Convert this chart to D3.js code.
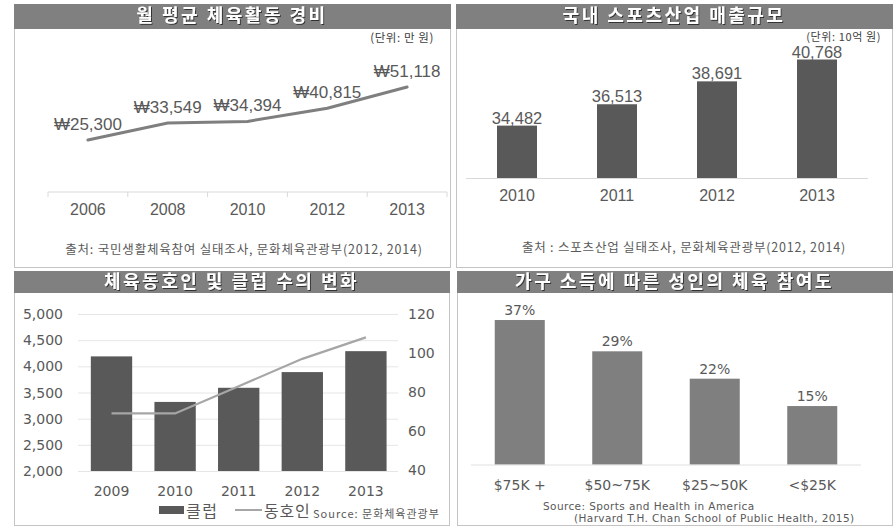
<!DOCTYPE html>
<html>
	<head>
		<meta charset="utf-8">
		<title>Sports charts</title>
		<style>
			body, html { margin: 0; padding: 0; background: #fff; }
			svg { display: block; }
			.kr { font-family: "Noto Sans CJK KR", "Noto Sans", sans-serif; }
			.ar { font-family: "Liberation Sans", Arial, sans-serif; }
			.dv { font-family: "DejaVu Sans", Verdana, sans-serif; }
		</style>
	</head>
	<body>

		<svg id="svg" width="896" height="528"></svg>

		<script src="https://d3js.org/d3.v7.min.js"></script>
		<script>
			// ---- data ----
			const spendYears = ['2006', '2008', '2010', '2012', '2013']
			const spendValues = [25300, 33549, 34394, 40815, 51118]

			const salesYears = ['2010', '2011', '2012', '2013']
			const salesValues = [34482, 36513, 38691, 40768]

			const clubYears = ['2009', '2010', '2011', '2012', '2013']
			const clubCounts = [4190, 3320, 3590, 3890, 4290]
			const memberCounts = [69, 69, 83, 97, 108]
			const clubTicks = [2000, 2500, 3000, 3500, 4000, 4500, 5000]
			const memberTicks = [40, 60, 80, 100, 120]

			const incomeGroups = ['$75K +', '$50~75K', '$25~50K', '<$25K']
			const incomeRates = [37, 29, 22, 15]

			const svg = d3.select('#svg')
			const titleGray = '#808080'
			const borderGray = '#c4c4c4'
			const textGray = '#595959'

			// shadow for the white titles
			svg.append('defs').append('filter')
				.attr('id', 'shadow')
				.append('feDropShadow')
				.attr('dx', 1).attr('dy', 1)
				.attr('stdDeviation', 0.6)
				.attr('flood-color', '#222')
				.attr('flood-opacity', 0.8)

			// draw a panel with a gray title bar
			function panel(x0, y0, w, h, barH, title) {
				svg.append('rect')
					.attr('x', x0 + 0.5).attr('y', y0 + 0.5)
					.attr('width', w).attr('height', h)
					.attr('fill', '#fff')
					.attr('stroke', borderGray)
				svg.append('rect')
					.attr('x', x0).attr('y', y0)
					.attr('width', w + 1).attr('height', barH)
					.attr('fill', titleGray)
				svg.append('text')
					.attr('class', 'kr')
					.attr('x', x0 + w / 2).attr('y', y0 + barH / 2 + 1)
					.attr('text-anchor', 'middle')
					.attr('dominant-baseline', 'middle')
					.attr('font-size', 18).attr('font-weight', 'bold')
					.attr('letter-spacing', 2.5)
					.attr('fill', '#fff')
					.attr('filter', 'url(#shadow)')
					.text(title)
			}

			panel(14, 4, 436, 263, 25, '월 평균 체육활동 경비')
			panel(456, 4, 436, 263, 25, '국내 스포츠산업 매출규모')
			panel(14, 271, 435, 254, 22, '체육동호인 및 클럽 수의 변화')
			panel(457, 271, 435, 254, 22, '가구 소득에 따른 성인의 체육 참여도')

			// ---- chart 1: line ----
			{
				const x = d3.scaleBand().domain(spendYears).range([48, 447])
				const y = d3.scaleLinear().domain([0, 60000]).range([192, 68.8])
				const g = svg.append('g')

				g.append('line')
					.attr('x1', x.range()[0]).attr('x2', x.range()[1])
					.attr('y1', y(0)).attr('y2', y(0))
					.attr('stroke', '#d9d9d9')
				g.selectAll('.bt')
					.data(spendYears.map(d => x(d)).concat([x.range()[1]]))
					.join('line')
					.attr('x1', d => d).attr('x2', d => d)
					.attr('y1', y(0)).attr('y2', y(0) + 5)
					.attr('stroke', '#d9d9d9')
				g.selectAll('.xl').data(spendYears).join('text')
					.attr('class', 'ar')
					.attr('x', d => x(d) + x.bandwidth() / 2).attr('y', 215)
					.attr('text-anchor', 'middle')
					.attr('font-size', 16).attr('fill', textGray)
					.text(d => d)

				const line = d3.line()
					.x((d, i) => x(spendYears[i]) + x.bandwidth() / 2)
					.y(d => y(d))
				g.append('path')
					.datum(spendValues)
					.attr('d', line)
					.attr('fill', 'none')
					.attr('stroke', '#7f7f7f')
					.attr('stroke-width', 3)
					.attr('stroke-linecap', 'round')

				g.selectAll('.vl').data(spendValues).join('text')
					.attr('class', 'ar')
					.attr('x', (d, i) => x(spendYears[i]) + x.bandwidth() / 2)
					.attr('y', d => y(d) - 10)
					.attr('text-anchor', 'middle')
					.attr('font-size', 17).attr('fill', textGray)
					.text(d => '₩' + d3.format(',')(d))

				g.append('text').attr('class', 'kr')
					.attr('x', 434).attr('y', 42)
					.attr('text-anchor', 'end')
					.attr('font-size', 11.5).attr('letter-spacing', 0.6)
					.attr('fill', '#404040')
					.text('(단위: 만 원)')
				g.append('text').attr('class', 'kr')
					.attr('x', 244).attr('y', 254)
					.attr('text-anchor', 'middle')
					.attr('font-size', 12.5).attr('letter-spacing', 0.8)
					.attr('fill', textGray)
					.text('출처: 국민생활체육참여 실태조사, 문화체육관광부(2012, 2014)')
			}

			// ---- chart 2: bars ----
			{
				const x = d3.scaleBand().domain(salesYears).range([467, 867])
					.paddingInner(0.6).paddingOuter(0.3)
				const y = d3.scaleLinear().domain([29500, 45000]).range([178, 15])
				const g = svg.append('g')

				g.selectAll('rect').data(salesValues).join('rect')
					.attr('x', (d, i) => x(salesYears[i]))
					.attr('y', d => y(d))
					.attr('width', x.bandwidth())
					.attr('height', d => y(29500) - y(d))
					.attr('fill', '#595959')
				g.append('line')
					.attr('x1', 466).attr('x2', 868)
					.attr('y1', 178.5).attr('y2', 178.5)
					.attr('stroke', '#d9d9d9')
				g.selectAll('.xl').data(salesYears).join('text')
					.attr('class', 'ar')
					.attr('x', d => x(d) + x.bandwidth() / 2).attr('y', 201)
					.attr('text-anchor', 'middle')
					.attr('font-size', 16).attr('fill', textGray)
					.text(d => d)
				g.selectAll('.vl').data(salesValues).join('text')
					.attr('class', 'ar')
					.attr('x', (d, i) => x(salesYears[i]) + x.bandwidth() / 2)
					.attr('y', d => y(d) - 2)
					.attr('text-anchor', 'middle')
					.attr('font-size', 16.5).attr('fill', textGray)
					.text(d => d3.format(',')(d))

				g.append('text').attr('class', 'kr')
					.attr('x', 881).attr('y', 41)
					.attr('text-anchor', 'end')
					.attr('font-size', 11).attr('letter-spacing', 0.6)
					.attr('fill', '#404040')
					.text('(단위: 10억 원)')
				g.append('text').attr('class', 'kr')
					.attr('x', 684).attr('y', 252)
					.attr('text-anchor', 'middle')
					.attr('font-size', 12.5).attr('letter-spacing', 0.8)
					.attr('fill', textGray)
					.text('출처 : 스포츠산업 실태조사, 문화체육관광부(2012, 2014)')
			}

			// ---- chart 3: bars + line, two axes ----
			{
				const x = d3.scaleBand().domain(clubYears).range([79.7, 397.7])
					.paddingInner(0.35).paddingOuter(0.175)
				const yL = d3.scaleLinear().domain([2000, 5000]).range([471, 314])
				const yR = d3.scaleLinear().domain([40, 120]).range([470, 314])
				const g = svg.append('g')

				g.selectAll('.grid').data(clubTicks).join('line')
					.attr('x1', 78).attr('x2', 398)
					.attr('y1', d => yL(d) + 0.5).attr('y2', d => yL(d) + 0.5)
					.attr('stroke', '#e6e6e6')
				g.selectAll('rect').data(clubCounts).join('rect')
					.attr('x', (d, i) => x(clubYears[i]))
					.attr('y', d => yL(d))
					.attr('width', x.bandwidth())
					.attr('height', d => yL(2000) - yL(d))
					.attr('fill', '#595959')

				g.append('path')
					.datum(memberCounts)
					.attr('d', d3.line()
						.x((d, i) => x(clubYears[i]) + x.bandwidth() / 2)
						.y(d => yR(d)))
					.attr('fill', 'none')
					.attr('stroke', '#a6a6a6')
					.attr('stroke-width', 2.2)

				g.selectAll('.ll').data(clubTicks).join('text')
					.attr('class', 'dv')
					.attr('x', 63).attr('y', d => yL(d) + 5)
					.attr('text-anchor', 'end')
					.attr('font-size', 14).attr('fill', textGray)
					.text(d => d3.format(',')(d))
				g.selectAll('.rl').data(memberTicks).join('text')
					.attr('class', 'dv')
					.attr('x', 408).attr('y', d => yR(d) + 5)
					.attr('font-size', 14).attr('fill', textGray)
					.text(d => d)
				g.selectAll('.xl').data(clubYears).join('text')
					.attr('class', 'dv')
					.attr('x', d => x(d) + x.bandwidth() / 2).attr('y', 496)
					.attr('text-anchor', 'middle')
					.attr('font-size', 14).attr('fill', textGray)
					.text(d => d)

				// legend
				g.append('rect')
					.attr('x', 159).attr('y', 506).attr('width', 25).attr('height', 8)
					.attr('fill', '#595959')
				g.append('text').attr('class', 'kr')
					.attr('x', 186).attr('y', 517)
					.attr('font-size', 16).attr('letter-spacing', 1.5)
					.attr('fill', textGray)
					.text('클럽')
				g.append('line')
					.attr('x1', 235).attr('x2', 262).attr('y1', 510).attr('y2', 510)
					.attr('stroke', '#a6a6a6').attr('stroke-width', 2)
				g.append('text').attr('class', 'kr')
					.attr('x', 264).attr('y', 517)
					.attr('font-size', 16).attr('letter-spacing', 0.8)
					.attr('fill', textGray)
					.text('동호인')
				g.append('text').attr('class', 'kr')
					.attr('x', 313).attr('y', 518)
					.attr('font-size', 11).attr('letter-spacing', 1)
					.attr('fill', textGray)
					.text('Source: 문화체육관광부')
			}

			// ---- chart 4: income bars ----
			{
				const x = d3.scaleBand().domain(incomeGroups).range([471, 861])
					.paddingInner(0.487).paddingOuter(0.2435)
				const y = d3.scaleLinear().domain([0, 40]).range([464.7, 308.3])
				const g = svg.append('g')

				g.selectAll('rect').data(incomeRates).join('rect')
					.attr('x', (d, i) => x(incomeGroups[i]))
					.attr('y', d => y(d))
					.attr('width', x.bandwidth())
					.attr('height', d => y(0) - y(d))
					.attr('fill', '#7f7f7f')
				g.append('line')
					.attr('x1', 471).attr('x2', 861)
					.attr('y1', 465).attr('y2', 465)
					.attr('stroke', '#e0e0e0')
				g.selectAll('.vl').data(incomeRates).join('text')
					.attr('class', 'dv')
					.attr('x', (d, i) => x(incomeGroups[i]) + x.bandwidth() / 2)
					.attr('y', d => y(d) - 5)
					.attr('text-anchor', 'middle')
					.attr('font-size', 14).attr('fill', textGray)
					.text(d => d + '%')
				g.selectAll('.xl').data(incomeGroups).join('text')
					.attr('class', 'dv')
					.attr('x', d => x(d) + x.bandwidth() / 2).attr('y', 490)
					.attr('text-anchor', 'middle')
					.attr('font-size', 14).attr('fill', textGray)
					.text(d => d)
				g.append('text').attr('class', 'dv')
					.attr('x', 543).attr('y', 510)
					.attr('font-size', 10.5).attr('letter-spacing', 0.4)
					.attr('fill', textGray)
					.text('Source: Sports and Health in America')
				g.append('text').attr('class', 'dv')
					.attr('x', 574).attr('y', 522)
					.attr('font-size', 10.5).attr('letter-spacing', 0.4)
					.attr('fill', textGray)
					.text('(Harvard T.H. Chan School of Public Health, 2015)')
			}
		</script>
	</body>
</html>
